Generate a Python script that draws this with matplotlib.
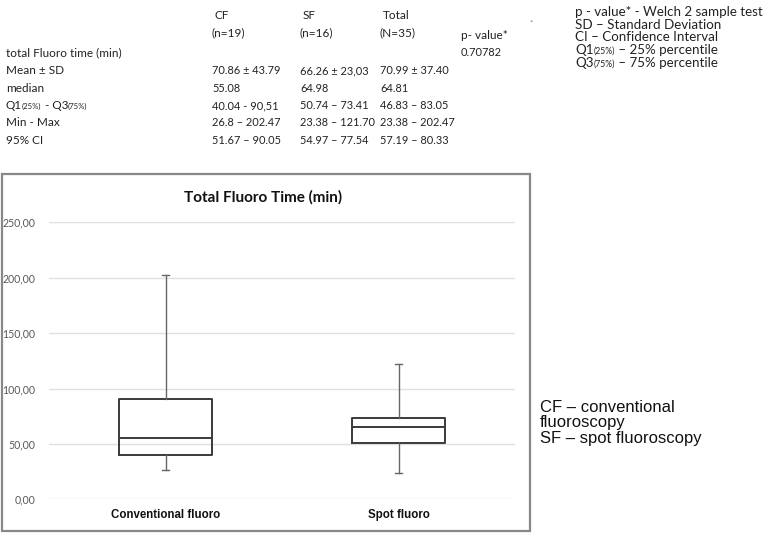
import matplotlib
matplotlib.use("Agg")
import matplotlib.pyplot as plt
from matplotlib.patches import Rectangle
from matplotlib.transforms import offset_copy

# data
groups = ["Conventional fluoro", "Spot fluoro"]
q1 = [40.04, 50.74]
median = [55.08, 64.98]
q3 = [90.51, 73.41]
w_lo = [26.8, 23.38]
w_hi = [202.47, 121.70]
yticks = [0, 50, 100, 150, 200, 250]

col_heads = [("CF", "(n=19)"), ("SF", "(n=16)"), ("Total", "(N=35)")]
row_labels = ["Mean \u00b1 SD", "median", None, "Min - Max", "95% CI"]
cf_vals = ["70.86 \u00b1 43.79", "55.08", "40.04 - 90,51", "26.8 \u2013 202.47", "51.67 \u2013 90.05"]
sf_vals = ["66.26 \u00b1 23,03", "64.98", "50.74 \u2013 73.41", "23.38 \u2013 121.70", "54.97 \u2013 77.54"]
tot_vals = ["70.99 \u00b1 37.40", "64.81", "46.83 \u2013 83.05", "23.38 \u2013 202.47", "57.19 \u2013 80.33"]
p_value = "0.70782"
notes = ["p - value* - Welch 2 sample test", "SD \u2013 Standard Deviation",
         "CI \u2013 Confidence Interval"]
abbrev = ["CF \u2013 conventional", "fluoroscopy", "SF \u2013 spot fluoroscopy"]

W, H = 764, 534
fig = plt.figure(figsize=(W / 100, H / 100), dpi=100)
renderer = fig.canvas.get_renderer()


def fx(px):
    return px / W


def fy(py):
    return 1 - py / H


tfont = "Lato"
lsize = 8.5   # row labels / headers
vsize = 7.9   # numbers
nsize = 9.6   # notes on the right
dark = "#222222"


def txt(x, y, s, size=lsize, **kw):
    kw.setdefault("family", tfont)
    kw.setdefault("color", dark)
    return fig.text(fx(x), fy(y), s, va="baseline", ha=kw.pop("ha", "left"),
                    fontsize=size, **kw)


def chain(x, y, parts):
    # pieces of text of different size sitting on one baseline
    for s, size in parts:
        t = txt(x, y, s, size=size)
        x += t.get_window_extent(renderer).width


# --- table on top ---
col_x = [212, 300, 380]
for x, (a, b) in zip(col_x, col_heads):
    txt(x + 3, 19, a)
    txt(x, 36, b)
txt(461, 39, "p- value*")
txt(6, 56, "total Fluoro time (min)")
txt(461, 56, p_value, size=vsize)

row_y = [74, 92, 109, 126, 144]
for i, y in enumerate(row_y):
    if row_labels[i] is None:
        chain(6, y, [("Q1", lsize), ("(25%)", 5.6), (" - Q3", lsize), ("(75%)", 5.6)])
    else:
        txt(6, y, row_labels[i])
    txt(col_x[0], y, cf_vals[i], size=vsize)
    txt(col_x[1], y, sf_vals[i], size=vsize)
    txt(col_x[2], y, tot_vals[i], size=vsize)

# --- notes top right ---
note_y = [16, 29, 41, 54, 67]
for s, y in zip(notes, note_y):
    txt(575, y, s, size=nsize)
chain(575, note_y[3], [("Q1", nsize), ("(25%)", 6.2), (" \u2013 25% percentile", nsize)])
chain(575, note_y[4], [("Q3", nsize), ("(75%)", 6.2), (" \u2013 75% percentile", nsize)])
txt(529, 26, "*", size=6, color="#888888")

# --- abbreviations lower right ---
for s, y in zip(abbrev, [408, 423, 438]):
    fig.text(fx(540), fy(y), s, va="center", fontsize=12,
             family="Liberation Sans", color="#111111")

# --- chart frame ---
fig.patches.append(Rectangle((fx(2), fy(531)), fx(528), (531 - 174) / H,
                             transform=fig.transFigure, fill=False,
                             ec="#888888", lw=1.6))

ax = fig.add_axes([fx(49), fy(499.3), fx(466), 277 / H])
stats = []
for i, g in enumerate(groups):
    stats.append(dict(label=g, q1=q1[i], med=median[i], q3=q3[i],
                      whislo=w_lo[i], whishi=w_hi[i], fliers=[]))
line_c = "#3a3a3a"
ax.bxp(stats, positions=[0, 1], widths=0.4, showfliers=False,
       capwidths=0.028,
       boxprops=dict(color=line_c, lw=1.4),
       medianprops=dict(color=line_c, lw=1.4),
       whiskerprops=dict(color="#666666", lw=1.0),
       capprops=dict(color="#666666", lw=1.0))

ax.set_xlim(-0.5, 1.5)
ax.set_ylim(0, 250)
ax.set_yticks(yticks)
ax.set_yticklabels([f"{v:.2f}".replace(".", ",") for v in yticks],
                   fontsize=7.6, family=tfont, color="#595959")
ax.set_xticks([0, 1])
ax.set_xticklabels(groups, fontsize=8.3, family="Liberation Sans",
                   fontweight="bold", color="#111111")
# Excel puts the category labels a bit right of the box centres
for lab in ax.get_xticklabels():
    lab.set_transform(offset_copy(lab.get_transform(), fig=fig, x=12, units="dots"))
ax.tick_params(length=0)
ax.tick_params(axis="y", pad=10)
ax.tick_params(axis="x", pad=7)
ax.grid(axis="y", color="#e0e0e0", lw=1.0)
ax.set_axisbelow(True)
for s in ax.spines.values():
    s.set_visible(False)

fig.text(fx(263), fy(197), "Total Fluoro Time (min)", ha="center", va="center",
         fontsize=11, family=tfont, fontweight="bold", color="#111111")

fig.savefig("out.png", dpi=100)
